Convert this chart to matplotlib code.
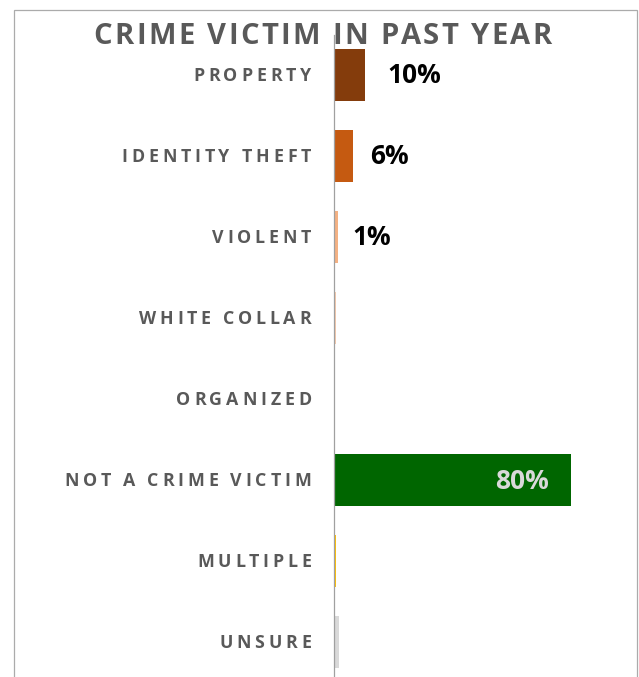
import matplotlib
matplotlib.use("Agg")
import matplotlib.pyplot as plt
from matplotlib.font_manager import FontProperties
from matplotlib.transforms import IdentityTransform
from matplotlib.patches import Rectangle

categories = ["PROPERTY", "IDENTITY THEFT", "VIOLENT", "WHITE COLLAR",
              "ORGANIZED", "NOT A CRIME VICTIM", "MULTIPLE", "UNSURE"]
values = [10, 6, 1, 0.4, 0, 80, 0.4, 1.5]
labels = ["10%", "6%", "1%", None, None, "80%", None, None]
colors = ["#843C0C", "#C55A11", "#F4B183", "#F8CBAD", "#F8CBAD",
          "#006600", "#FFC000", "#D9D9D9"]
title = "CRIME VICTIM IN PAST YEAR"

W, H, DPI = 639, 677, 100
GREY = "#595959"

fig = plt.figure(figsize=(W / DPI, H / DPI), dpi=DPI)
fig.patch.set_facecolor("white")

# chart frame (runs off the bottom edge)
fig.patches.append(Rectangle((13.5, -20), 623, H - 9.5 + 20, fill=False,
                             edgecolor="#ABABAB", linewidth=0.9,
                             transform=IdentityTransform(), figure=fig))

ax = fig.add_axes([335 / W, -5.5 / H, 295 / W, 648 / H])
pos = list(range(len(categories)))
ax.barh(pos, values, height=0.64, color=colors)
ax.set_xlim(0, 100)
ax.set_ylim(len(categories) - 0.5, -0.5)
for s in ["top", "right", "bottom"]:
    ax.spines[s].set_visible(False)
ax.spines["left"].set_color("#A0A0A0")
ax.spines["left"].set_linewidth(0.9)
ax.spines["left"].set_position(("outward", 0.7))
ax.set_xticks([])
ax.set_yticks([])
ax.patch.set_alpha(0)

renderer = fig.canvas.get_renderer()


def spaced_text(x, y, s, prop, spacing, ha="left", color=GREY):
    # draws letter-spaced text char by char, x/y in pixels (baseline)
    def width(t):
        return renderer.get_text_width_height_descent(t, prop, ismath=False)[0]
    ref = width("|")
    offs = [0.0] + [width(s[:i] + "|") - ref for i in range(1, len(s))]
    total = width(s) + spacing * (len(s) - 1)
    if ha == "right":
        x0 = x - total
    elif ha == "center":
        x0 = x - total / 2
    else:
        x0 = x
    for i, ch in enumerate(s):
        if ch == " ":
            continue
        fig.text(x0 + offs[i] + spacing * i, y, ch, fontproperties=prop,
                 color=color, ha="left", va="baseline",
                 transform=IdentityTransform())


title_prop = FontProperties(family="Open Sans", weight="bold", size=21)
cat_prop = FontProperties(family="Open Sans", weight="bold", size=12.8)
val_prop = FontProperties(family="Open Sans", weight="bold", size=19)

spaced_text(322.5, H - 44, title, title_prop, 2.4, ha="center")

label_dx = [23, 17, 14, 0, 0, 0, 0, 0]
for i, cat in enumerate(categories):
    _, yc = ax.transData.transform((0, i))
    spaced_text(311, yc - 6.3, cat, cat_prop, 3.8, ha="right")
    if labels[i] is None:
        continue
    xe, _ = ax.transData.transform((values[i], i))
    if values[i] > 50:
        fig.text(xe - 22, yc - 9, labels[i], fontproperties=val_prop,
                 color="#D9D9D9", ha="right", va="baseline",
                 transform=IdentityTransform())
    else:
        fig.text(xe + label_dx[i], yc - 8, labels[i], fontproperties=val_prop,
                 color="black", ha="left", va="baseline",
                 transform=IdentityTransform())

fig.savefig("out.png", dpi=DPI)
